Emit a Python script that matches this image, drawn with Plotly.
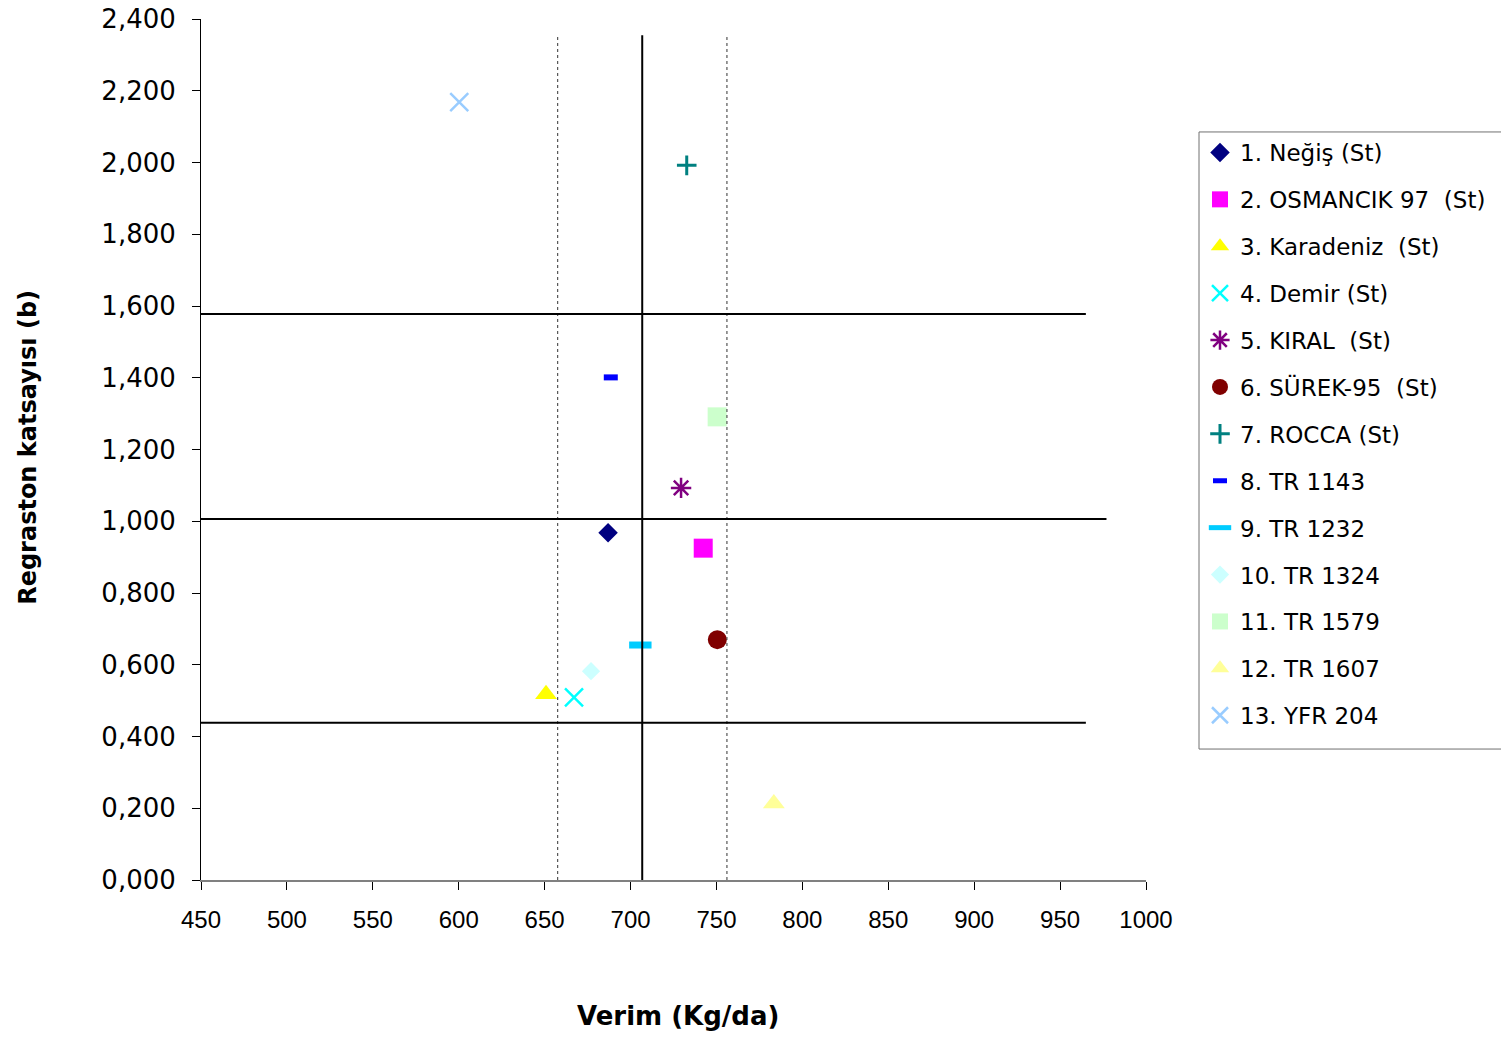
import plotly.graph_objects as go

# Genotype names (legend labels)
genotypes = [
    "1. Neğiş (St)",
    "2. OSMANCIK 97\u00a0\u00a0(St)",
    "3. Karadeniz\u00a0\u00a0(St)",
    "4. Demir (St)",
    "5. KIRAL\u00a0\u00a0(St)",
    "6. SÜREK-95\u00a0\u00a0(St)",
    "7. ROCCA (St)",
    "8. TR 1143",
    "9. TR 1232",
    "10. TR 1324",
    "11. TR 1579",
    "12. TR 1607",
    "13. YFR 204",
]

# Mean yield (kg/da) of each genotype
yield_kg_da = [686.9, 742.3, 650.8, 667.1, 729.4, 750.5, 732.7,
               688.5, 705.7, 677.0, 750.4, 783.4, 600.3]

# Regression coefficient (b) of each genotype
reg_coef_b = [0.968, 0.925, 0.518, 0.509, 1.093, 0.670, 1.992,
              1.401, 0.655, 0.582, 1.291, 0.213, 2.168]

# Reference lines: overall mean yield with its limits, and b = 1 with its limits
mean_yield = 706.8
yield_limits = [657.6, 756.1]
b_lines = [1.578, 1.006, 0.438]
b_line_ends = [965.0, 977.0, 965.0]

# Axis ticks
x_tickvals = [450, 500, 550, 600, 650, 700, 750, 800, 850, 900, 950, 1000]
x_ticktext = ["450", "500", "550", "600", "650", "700", "750", "800", "850", "900", "950", "1000"]
y_tickvals = [0.0, 0.2, 0.4, 0.6, 0.8, 1.0, 1.2, 1.4, 1.6, 1.8, 2.0, 2.2, 2.4]
y_ticktext = ["0,000", "0,200", "0,400", "0,600", "0,800", "1,000", "1,200",
              "1,400", "1,600", "1,800", "2,000", "2,200", "2,400"]

# Marker style per genotype: (symbol, colour, size, line width)
styles = [
    ("diamond", "#000080", 15, 0),
    ("square", "#FF00FF", 19, 0),
    ("triangle-up", "#FFFF00", 19, 0),
    ("x-thin", "#00FFFF", 18, 2.5),
    ("asterisk", "#800080", 17, 2.5),
    ("circle", "#800000", 19, 0),
    ("cross-thin", "#008080", 14, 3),
    ("line-ew", "#0000FF", 10, 6),
    ("line-ew", "#00CCFF", 16, 7),
    ("diamond", "#CCFFFF", 14, 0),
    ("square", "#CCFFCC", 19, 0),
    ("triangle-up", "#FFFF99", 19, 0),
    ("x-thin", "#99CCFF", 18, 2.5),
]

fig = go.Figure()

for i, name in enumerate(genotypes):
    sym, col, size, lw = styles[i]
    open_sym = sym in ("x-thin", "asterisk", "cross-thin", "line-ew")
    marker = dict(symbol=sym, color=col, size=size)
    if open_sym:
        marker["line"] = dict(color=col, width=lw)
    else:
        marker["line"] = dict(width=0)
    fig.add_trace(go.Scatter(
        x=[yield_kg_da[i]], y=[reg_coef_b[i]],
        mode="markers", name=name, marker=marker,
        legendgroup=f"g{i}",
    ))

shapes = []
# vertical lines: mean yield (solid) and limits (dotted)
shapes.append(dict(type="line", xref="x", yref="y", x0=mean_yield, x1=mean_yield,
                   y0=0, y1=2.355, line=dict(color="black", width=2)))
for xv in yield_limits:
    shapes.append(dict(type="line", xref="x", yref="y", x0=xv, x1=xv,
                       y0=0, y1=2.35, line=dict(color="#333333", width=1, dash="dot")))
# horizontal lines
for yv, xe in zip(b_lines, b_line_ends):
    shapes.append(dict(type="line", xref="x", yref="y", x0=450, x1=xe,
                       y0=yv, y1=yv, line=dict(color="black", width=2)))
# legend frame (open to the right edge of the page)
shapes.append(dict(type="rect", xref="paper", yref="paper",
                   x0=1.0561, x1=1.40, y0=0.1521, y1=0.8688,
                   line=dict(color="#707070", width=1), fillcolor="rgba(0,0,0,0)"))

fig.update_layout(
    width=1501, height=1037,
    margin=dict(l=201, r=355, t=19, b=157, autoexpand=False),
    paper_bgcolor="white", plot_bgcolor="white",
    showlegend=True,
    shapes=shapes,
    legend=dict(
        xref="container", yref="container",
        x=1200 / 1501, y=1 - 131 / 1037, xanchor="left", yanchor="top",
        bgcolor="rgba(0,0,0,0)", borderwidth=0,
        font=dict(family="DejaVu Sans", size=23, color="black"),
        tracegroupgap=14, traceorder="grouped",
        itemsizing="trace", maxheight=800,
    ),
    xaxis=dict(
        range=[450, 1000], tickvals=x_tickvals, ticktext=x_ticktext,
        showgrid=False, zeroline=False,
        showline=True, linecolor="#808080", linewidth=2,
        ticks="outside", ticklen=8, tickcolor="black", tickwidth=1,
        ticklabelstandoff=9,
        tickfont=dict(family="Liberation Sans", size=24, color="black"),
    ),
    yaxis=dict(
        range=[0, 2.4], tickvals=y_tickvals, ticktext=y_ticktext,
        showgrid=False, zeroline=False,
        showline=True, linecolor="black", linewidth=1,
        ticks="outside", ticklen=8, tickcolor="black", tickwidth=1,
        ticklabelstandoff=11,
        tickfont=dict(family="DejaVu Sans", size=26, color="black"),
    ),
    annotations=[
        dict(text="<b>Verim (Kg/da)</b>", xref="paper", yref="paper",
             x=0.505, y=-0.158, xanchor="center", yanchor="middle", showarrow=False,
             font=dict(family="DejaVu Sans", size=26, color="black")),
        dict(text="<b>Regraston katsayısı (b)</b>", xref="paper", yref="paper",
             x=-0.183, y=0.502, xanchor="center", yanchor="middle", showarrow=False,
             textangle=-90,
             font=dict(family="DejaVu Sans", size=24, color="black")),
    ],
)

fig.write_html("out.html")
